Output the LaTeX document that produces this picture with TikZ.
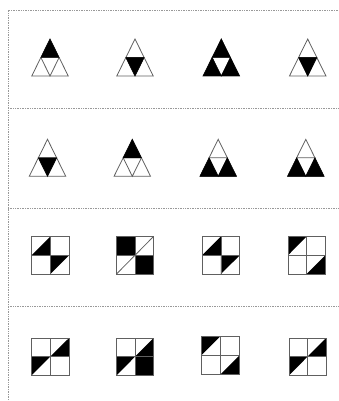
\documentclass[tikz,border=0pt]{standalone}
\begin{document}
\begin{tikzpicture}[x=1pt,y=-1pt,
  sep/.style={gray!80, densely dotted, line width=0.7pt},
  edge/.style={gray!75!black, line width=0.8pt},
  blk/.style={fill=black, draw=black, line width=0.4pt}]
\useasboundingbox (0,0) rectangle (338,401);
% frame lines
\coordinate (tl) at (8,10);
\coordinate (tr) at (338,10);
\coordinate (bl) at (8,401);
\draw[sep] (tr) -- (tl) -- (bl);
\foreach \yy in {108.5,208.5,306.5}{\draw[sep] (8,\yy) -- (338,\yy);}
% triangle macro: #1 cx, #2 top, #3 top fill, #4 middle, #5 left, #6 right (1 = black)
\newcommand\sierp[6]{%
 \begin{scope}[shift={(#1,#2)}]
  \coordinate (A) at (0,0);
  \coordinate (L) at (-18.25,37);
  \coordinate (R) at (18.25,37);
  \coordinate (mL) at (-9.125,18.5);
  \coordinate (mR) at (9.125,18.5);
  \coordinate (mB) at (0,37);
  \draw[edge] (A) -- (L) -- (R) -- cycle;
  \draw[edge] (mL) -- (mR) -- (mB) -- cycle;
  \ifnum#3=1 \filldraw[blk] (A) -- (mL) -- (mR) -- cycle;\fi
  \ifnum#4=1 \filldraw[blk] (mL) -- (mR) -- (mB) -- cycle;\fi
  \ifnum#5=1 \filldraw[blk] (mL) -- (L) -- (mB) -- cycle;\fi
  \ifnum#6=1 \filldraw[blk] (mR) -- (mB) -- (R) -- cycle;\fi
 \end{scope}}
% square cells
\newcommand\cUL[2]{\begin{scope}[shift={(#1,#2)}]\fill[black] (0,0) -- (1,0) -- (0,1) -- cycle;\end{scope}}
\newcommand\cLR[2]{\begin{scope}[shift={(#1,#2)}]\fill[black] (1,0) -- (1,1) -- (0,1) -- cycle;\end{scope}}
\newcommand\cFull[2]{\begin{scope}[shift={(#1,#2)}]\fill[black] (0,0) rectangle (1,1);\end{scope}}
\newcommand\grid{\draw[edge] (0,0) rectangle (2,2); \draw[edge] (1,0) -- (1,2); \draw[edge] (0,1) -- (2,1);}
% row 1
\sierp{50}{39}{1}{0}{0}{0}
\sierp{135}{39}{0}{1}{0}{0}
\sierp{221.3}{39}{1}{0}{1}{1}
\sierp{307.7}{39}{0}{1}{0}{0}
% row 2
\sierp{47.5}{139.3}{0}{1}{0}{0}
\sierp{132.3}{139.3}{1}{0}{0}{0}
\sierp{218.2}{139.3}{0}{0}{1}{1}
\sierp{305.8}{139.3}{0}{0}{1}{1}
% row 3
\begin{scope}[shift={(31.5,236.5)},x=18.75pt,y=-18.75pt]
 \cLR{0}{0}\cUL{1}{1}\grid
\end{scope}
\begin{scope}[shift={(116.5,236.5)},x=18.5pt,y=-18.75pt]
 \cFull{0}{0}\cFull{1}{1}\grid \draw[edge] (0,2) -- (2,0);
\end{scope}
\begin{scope}[shift={(202,236.5)},x=18.9pt,y=-18.75pt]
 \cLR{0}{0}\cUL{1}{1}\grid
\end{scope}
\begin{scope}[shift={(288,236.5)},x=18.7pt,y=-18.75pt]
 \cUL{0}{0}\cLR{1}{1}\grid
\end{scope}
% row 4
\begin{scope}[shift={(31.5,338)},x=18.75pt,y=-18.7pt]
 \cLR{1}{0}\cUL{0}{1}\grid
\end{scope}
\begin{scope}[shift={(116.5,338)},x=18.5pt,y=-18.7pt]
 \cLR{1}{0}\cUL{0}{1}\cFull{1}{1}\grid
\end{scope}
\begin{scope}[shift={(201,336.5)},x=19.1pt,y=-19.1pt]
 \cUL{0}{0}\cLR{1}{1}\grid
\end{scope}
\begin{scope}[shift={(289,338)},x=18.5pt,y=-18.7pt]
 \cLR{1}{0}\cUL{0}{1}\grid
\end{scope}
\end{tikzpicture}
\end{document}
